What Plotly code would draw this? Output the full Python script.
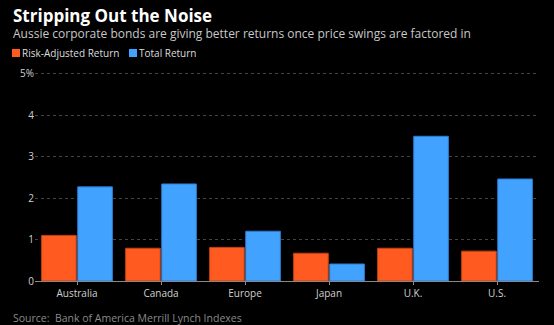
import plotly.graph_objects as go

categories = ["Australia", "Canada", "Europe", "Japan", "U.K.", "U.S."]
risk_adjusted = [1.10, 0.79, 0.81, 0.67, 0.79, 0.72]
total_return = [2.27, 2.34, 1.20, 0.41, 3.49, 2.46]
series_names = ["Risk-Adjusted Return", "Total Return"]
y_tickvals = [0, 1, 2, 3, 4, 5]
y_ticktext = ["0", "1", "2", "3", "4", "5%"]

ORANGE = "#ff5a1f"
BLUE = "#42a2ff"
FONT = "Open Sans"
W, H = 554, 325
ML, MR, MT, MB = 35, 15, 72, 44

fig = go.Figure()
fig.add_trace(go.Bar(x=categories, y=risk_adjusted, name=series_names[0],
                     marker=dict(color=ORANGE, line=dict(color="#c4400f", width=1))))
fig.add_trace(go.Bar(x=categories, y=total_return, name=series_names[1],
                     marker=dict(color=BLUE, line=dict(color="#2a7bd0", width=1))))

fig.update_layout(
    width=W, height=H,
    paper_bgcolor="black", plot_bgcolor="black",
    margin=dict(l=ML, r=MR, t=MT, b=MB),
    barmode="group", bargap=0.14, bargroupgap=0.04,
    font=dict(family=FONT, color="#cfcfcf", size=10),
    showlegend=False,
    xaxis=dict(showgrid=False, showline=True, linecolor="#888888", linewidth=1,
               ticks="outside", ticklen=3, tickcolor="#888888",
               tickfont=dict(size=10, color="#d0d0d0"), fixedrange=True),
    yaxis=dict(range=[0, 5.04], tickvals=y_tickvals, ticktext=y_ticktext,
               showgrid=True, gridcolor="#444444", griddash="dot", gridwidth=1,
               zeroline=False, showline=False, ticks="",
               tickfont=dict(size=10, color="#d0d0d0"),
               fixedrange=True),
)

plot_h = H - MT - MB
plot_w = W - ML - MR


def px_x(x):
    return (x - ML) / plot_w


def px_y(y):
    return (H - MB - y) / plot_h


texts = [
    ("<b>Stripping Out the Noise</b>", 17, "white", 11, 15),
    ("Aussie corporate bonds are giving better returns once price swings are factored in",
     12, "#c8c8c8", 11, 33),
    ("Source:  Bank of America Merrill Lynch Indexes", 10.5, "#8a8a8a", 11, 318),
    (series_names[0], 10, "#dddddd", 20, 53),
    (series_names[1], 10, "#dddddd", 137, 53),
]
for t, size, color, x, y in texts:
    fig.add_annotation(text=t, font=dict(size=size, color=color, family=FONT),
                       xref="paper", yref="paper", x=px_x(x), y=px_y(y),
                       showarrow=False, xanchor="left", yanchor="middle")

for color, x0 in [(ORANGE, 12), (BLUE, 129)]:
    fig.add_shape(type="rect", xref="paper", yref="paper",
                  x0=px_x(x0), x1=px_x(x0 + 8), y0=px_y(49), y1=px_y(57),
                  fillcolor=color, line=dict(width=0))

fig.write_html("out.html")
